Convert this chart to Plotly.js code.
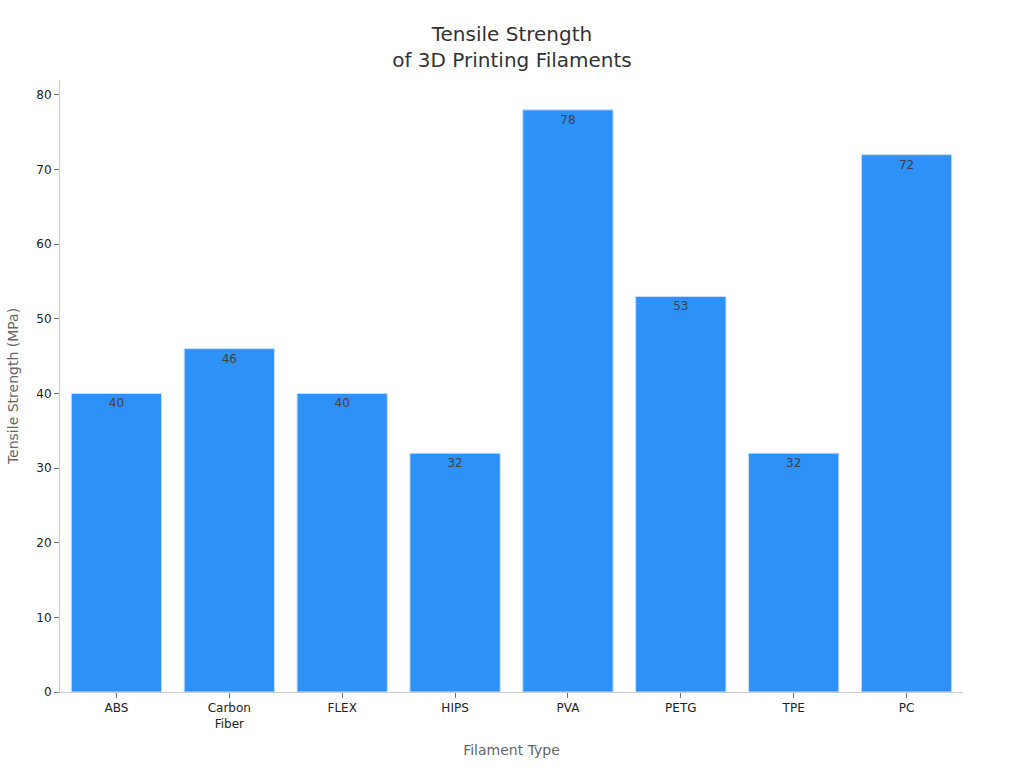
<!DOCTYPE html>
<html>
<head>
<meta charset="utf-8">
<script src="https://cdn.plot.ly/plotly-3.0.1.min.js"></script>
<style>
	body { margin: 0; background: #fff; }
	#myDiv { width: 1024px; height: 768px; }
</style>
</head>
<body>
<div id="myDiv"></div>
<script>
var filaments = ['ABS', 'Carbon<br>Fiber', 'FLEX', 'HIPS', 'PVA', 'PETG', 'TPE', 'PC'];
var strength = [40, 46, 40, 32, 78, 53, 32, 72];

var data = [{
	x: filaments,
	y: strength,
	type: 'bar',
	text: strength.map(String),
	textposition: 'inside',
	insidetextanchor: 'end',
	textfont: {color: '#404040', size: 12},
	marker: {color: '#2E91F8', line: {color: '#c9def5', width: 1}},
	hoverinfo: 'x+y'
}];

var layout = {
	title: {
		text: 'Tensile Strength<br>of 3D Printing Filaments',
		x: 0.5,
		xanchor: 'center',
		y: 0.947,
		yanchor: 'middle',
		font: {size: 20, color: '#333'}
	},
	font: {family: 'DejaVu Sans', color: '#222', size: 12},
	width: 1024,
	height: 768,
	paper_bgcolor: '#fff',
	plot_bgcolor: '#fff',
	margin: {l: 60, r: 61, t: 80, b: 76, pad: 0},
	bargap: 0.2,
	showlegend: false,
	xaxis: {
		title: {text: 'Filament Type', font: {size: 14, color: '#666'}, standoff: 15},
		showline: true,
		linecolor: '#ccc',
		ticks: 'outside',
		ticklen: 5,
		tickcolor: '#777',
		showgrid: false,
		tickfont: {size: 12, color: '#222'}
	},
	yaxis: {
		title: {text: 'Tensile Strength (MPa)', font: {size: 14, color: '#666'}, standoff: 14},
		range: [0, 82],
		dtick: 10,
		showline: true,
		linecolor: '#ccc',
		ticks: 'outside',
		ticklen: 5,
		tickcolor: '#777',
		showgrid: false,
		zeroline: false,
		tickfont: {size: 12, color: '#222'}
	}
};

Plotly.newPlot('myDiv', data, layout, {displayModeBar: false, responsive: false});
</script>
</body>
</html>
